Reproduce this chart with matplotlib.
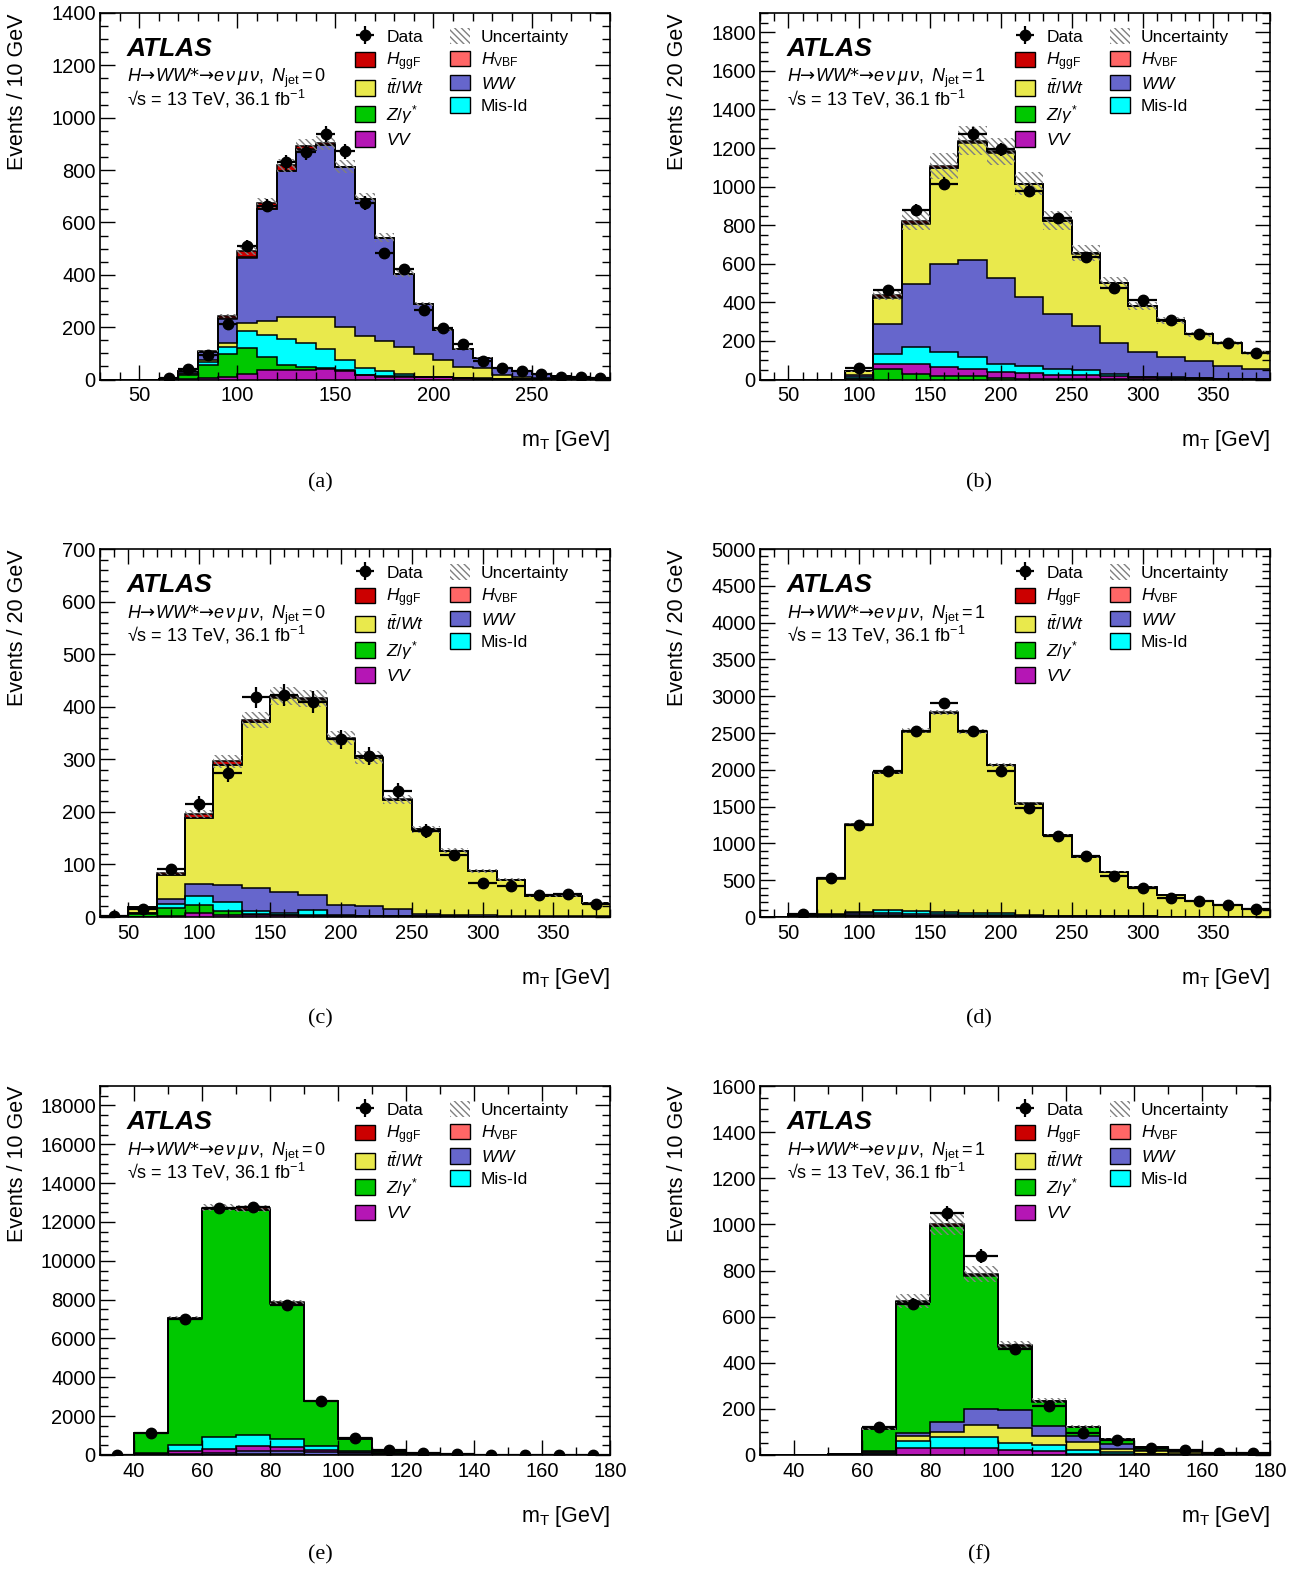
import numpy as np
import matplotlib
matplotlib.use("Agg")
import matplotlib.pyplot as plt
from matplotlib.patches import Patch
from matplotlib.ticker import MultipleLocator

nan = np.nan

# ---------------- panel (a): N_jet = 0, 10 GeV bins ----------------
a_bins = np.arange(30, 291, 10)
a_vv = [0, 0, 0, 0.5, 1, 4, 11, 22, 37, 37, 35, 40, 32, 17, 11, 11, 8, 8, 4, 3, 2, 2, 1, 1, 0.5, 0.5]
a_z = [0, 0, 0, 1.5, 18, 52, 85, 99, 49, 19, 12, 5, 5, 2, 2, 1, 1, 1, 1, 0.5, 0.5, 0.3, 0.3, 0.2, 0.2, 0.1]
a_misid = [0, 0, 0, 0, 2, 10, 28, 64, 85, 99, 92, 73, 39, 26, 18, 10, 2, 1, 1, 0.5, 0.5, 0.3, 0.3, 0.2, 0.2, 0.1]
a_top = [0, 0, 0, 0, 2, 7, 15, 31, 51, 84, 100, 121, 125, 121, 116, 102, 87, 63, 41, 40, 16, 8, 6, 3, 2, 1]
a_ww = [0, 0, 0, 1, 10, 33, 94, 249, 428, 557, 639, 657, 609, 522, 394, 280, 189, 116, 68, 39, 25, 20, 14, 8, 5, 3]
a_hvbf = [0, 0, 0, 0, 0.2, 0.3, 1, 2, 2, 1.5, 1, 1, 0.5, 0.3, 0.3, 0.3, 0.2, 0.2, 0.1, 0.1, 0.1, 0, 0, 0, 0, 0]
a_hggf = [0, 0, 0, 0, 1, 3, 8, 24, 22, 20, 12, 7, 3, 2, 1, 0.5, 0.5, 0.3, 0.2, 0.2, 0.1, 0.1, 0, 0, 0, 0]
a_data = [nan, nan, nan, 5, 40, 92, 211, 511, 664, 830, 868, 936, 871, 674, 482, 422, 267, 198, 135, 69, 44, 31, 20, 8, 10, 5]

# ---------------- panel (b): N_jet = 1, 20 GeV bins ----------------
b_bins = np.arange(30, 391, 20)
b_z = [0, 0, 0, 3, 52, 29, 19, 16, 7, 4, 3, 2, 1, 1, 0.5, 0.5, 0.3, 0.2]
b_vv = [0, 0, 0, 2, 29, 52, 45, 38, 31, 29, 21, 22, 15, 11, 7, 5, 3, 2]
b_misid = [0, 0, 0, 7, 52, 87, 78, 64, 43, 36, 28, 27, 13, 2, 3, 4, 1, 1]
b_ww = [0, 0, 0, 9, 156, 329, 459, 502, 445, 359, 289, 226, 161, 128, 105, 84, 64, 50]
b_top = [0, 0, 0, 20.5, 136, 309, 493, 608, 650, 583, 481, 376, 308, 238, 189, 140, 120, 84]
b_hvbf = [0, 0, 0, 0.5, 3, 4, 4, 3, 2.5, 2, 1.5, 1, 0.8, 0.6, 0.5, 0.4, 0.3, 0.2]
b_hggf = [0, 0, 0, 1, 8, 12, 10, 7, 5, 3, 2, 1.5, 1, 0.7, 0.5, 0.4, 0.3, 0.2]
b_data = [nan, nan, nan, 59, 462, 881, 1016, 1271, 1193, 978, 835, 635, 474, 414, 306, 236, 191, 138]

# ---------------- panel (c): N_jet = 0, 20 GeV bins ----------------
c_bins = np.arange(30, 391, 20)
c_vv = [0, 0.5, 1, 7, 4, 3, 3, 2, 1.5, 1.2, 1, 0.8, 0.6, 0.5, 0.4, 0.3, 0.2, 0.2]
c_z = [0, 5.5, 17, 16, 7, 2, 1, 1, 0.8, 0.5, 0.3, 0.3, 0.2, 0.2, 0.2, 0.1, 0.1, 0.1]
c_misid = [0, 1, 6, 16, 17, 7, 4, 10, 0.7, 0.3, 0.5, 0.2, 0.2, 0.2, 0.1, 0.1, 0.1, 0.1]
c_ww = [0, 1, 10, 24, 33, 43, 39, 28, 19, 18, 13, 3.5, 2.5, 2.5, 2, 1.5, 1.2, 1]
c_top = [0, 10.6, 45.5, 124.8, 227.8, 315, 370.2, 372.4, 317.1, 282.7, 208.1, 161.5, 121.9, 84.2, 68, 37.7, 38.2, 25.4]
c_hvbf = [0, 0.1, 0.5, 1.2, 1.2, 1, 0.8, 0.6, 0.4, 0.3, 0.3, 0.2, 0.2, 0.1, 0.1, 0.1, 0.1, 0.1]
c_hggf = [0, 0.3, 3, 7, 6, 4, 3, 2, 1.5, 1, 0.8, 0.5, 0.4, 0.3, 0.2, 0.2, 0.1, 0.1]
c_data = [1, 16, 91, 215, 273, 418, 422, 409, 338, 306, 240, 164, 117, 64, 59, 42, 43, 24]

# ---------------- panel (d): N_jet = 1, 20 GeV bins ----------------
d_bins = np.arange(30, 391, 20)
d_vv = [0, 2, 6, 10, 12, 12, 11, 10, 8, 6, 4, 3, 2, 2, 1, 1, 1, 1]
d_z = [0, 5, 15, 18, 12, 8, 5, 4, 3, 2, 2, 1, 1, 1, 0.5, 0.5, 0.5, 0.5]
d_ww = [0, 2, 10, 20, 25, 25, 22, 18, 15, 12, 9, 7, 5, 4, 3, 2, 2, 1]
d_misid = [0, 3, 10, 25, 40, 30, 35, 20, 25, 8, 4, 3, 2, 2, 1, 1, 1, 1]
d_top = [0, 28.4, 482, 1174, 1868, 2444, 2700.5, 2464, 2011.5, 1513, 1098.7, 799.4, 603.9, 400.2, 294.9, 209, 159.2, 105.2]
d_hvbf = [0, 0.1, 1, 2, 3, 3, 2.5, 2, 1.5, 1, 0.8, 0.6, 0.4, 0.3, 0.2, 0.2, 0.1, 0.1]
d_hggf = [0, 0.5, 4, 8, 12, 10, 7, 5, 3, 2, 1.5, 1, 0.7, 0.5, 0.4, 0.3, 0.2, 0.2]
d_data = [nan, 46, 528, 1252, 1986, 2532, 2905, 2527, 1981, 1475, 1097, 833, 560, 396, 260, 214, 168, 109]

# ---------------- panel (e): N_jet = 0, 10 GeV bins ----------------
e_bins = np.arange(30, 181, 10)
e_top = [0, 5, 15, 25, 30, 30, 25, 20, 12, 8, 5, 3, 2, 1, 1]
e_ww = [0, 30, 60, 100, 200, 200, 140, 100, 50, 25, 12, 6, 3, 2, 1]
e_vv = [0, 30, 130, 200, 220, 180, 80, 50, 25, 12, 6, 3, 2, 1, 0.5]
e_misid = [0, 20, 300, 590, 570, 420, 200, 40, 20, 10, 5, 2, 1, 0.5, 0.3]
e_z = [0, 1050.5, 6523, 11757, 11584, 6969, 2313, 628, 118, 32.5, 10.7, 5.3, 1.6, 0.2, 0.2]
e_hvbf = [0, 0.5, 3, 8, 12, 10, 5, 2, 1, 0.5, 0.3, 0.2, 0.1, 0.1, 0.1]
e_hggf = [0, 2, 20, 60, 90, 70, 30, 10, 4, 2, 1, 0.5, 0.3, 0.2, 0.1]
e_data = [2, 1138, 7017, 12706, 12758, 7741, 2793, 860, 260, 100, 40, 20, 10, 5, 3]

# ---------------- panel (f): N_jet = 1, 10 GeV bins ----------------
f_bins = np.arange(30, 181, 10)
f_vv = [0, 0, 0.5, 5, 32, 32, 32, 22, 18, 3, 3, 3, 2, 1, 0.5]
f_misid = [0, 0, 0.5, 3, 29, 44, 48, 32, 24, 19, 10, 3, 2, 1, 0.5]
f_top = [0, 0, 0.5, 5, 22, 25, 52, 64, 41, 36, 15, 12, 8, 4, 2]
f_ww = [0, 0, 0.5, 4, 11, 41, 68, 75, 44, 25, 19, 4, 6, 3, 2]
f_z = [0, 0, 0.7, 96.7, 567.5, 849, 577, 276.5, 104, 37.4, 20.6, 12.3, 1.6, 0.7, 0.8]
f_hvbf = [0, 0, 0.1, 0.3, 1.5, 2, 2, 1.5, 1, 0.6, 0.4, 0.2, 0.1, 0.1, 0.1]
f_hggf = [0, 0, 0.2, 1, 5, 7, 6, 4, 3, 2, 1, 0.5, 0.3, 0.2, 0.1]
f_data = [nan, nan, nan, 121, 654, 1048, 863, 459, 213, 95, 66, 29, 23, 10, 8]

# relative size of the hatched systematic band
unc_frac = [0.03, 0.06, 0.04, 0.012, 0.015, 0.045]

colors = {
    "hggf": "#cc0000",
    "hvbf": "#ff6666",
    "top": "#e9e94c",
    "ww": "#6666cc",
    "z": "#00c800",
    "misid": "#00ffff",
    "vv": "#b516b5",
}
labels = {
    "hggf": r"$H_{\rm ggF}$",
    "hvbf": r"$H_{\rm VBF}$",
    "top": r"$t\bar{t}/Wt$",
    "ww": r"$WW$",
    "z": r"$Z/\gamma^{*}$",
    "misid": "Mis-Id",
    "vv": r"$VV$",
}

plt.rcParams["font.family"] = ["Liberation Sans", "DejaVu Sans"]
plt.rcParams["mathtext.fontset"] = "custom"
plt.rcParams["mathtext.rm"] = "Liberation Sans"
plt.rcParams["mathtext.it"] = "Liberation Sans:italic"
plt.rcParams["mathtext.bf"] = "Liberation Sans:bold"
plt.rcParams["mathtext.sf"] = "Liberation Sans"
plt.rcParams["hatch.linewidth"] = 1.0
plt.rcParams["axes.linewidth"] = 1.2

HATCH = "\\\\\\\\\\"

panels = [
    dict(bins=a_bins, comps=dict(vv=a_vv, z=a_z, misid=a_misid, top=a_top, ww=a_ww, hvbf=a_hvbf, hggf=a_hggf),
         order=["vv", "z", "misid", "top", "ww", "hvbf", "hggf"], data=a_data,
         ymax=1400, ymaj=200, ysub=4, xmaj=50, width=10, njet=0, tag="(a)"),
    dict(bins=b_bins, comps=dict(vv=b_vv, z=b_z, misid=b_misid, top=b_top, ww=b_ww, hvbf=b_hvbf, hggf=b_hggf),
         order=["z", "vv", "misid", "ww", "top", "hvbf", "hggf"], data=b_data,
         ymax=1900, ymaj=200, ysub=4, xmaj=50, width=20, njet=1, tag="(b)"),
    dict(bins=c_bins, comps=dict(vv=c_vv, z=c_z, misid=c_misid, top=c_top, ww=c_ww, hvbf=c_hvbf, hggf=c_hggf),
         order=["vv", "z", "misid", "ww", "top", "hvbf", "hggf"], data=c_data,
         ymax=700, ymaj=100, ysub=5, xmaj=50, width=20, njet=0, tag="(c)"),
    dict(bins=d_bins, comps=dict(vv=d_vv, z=d_z, misid=d_misid, top=d_top, ww=d_ww, hvbf=d_hvbf, hggf=d_hggf),
         order=["vv", "z", "ww", "misid", "top", "hvbf", "hggf"], data=d_data,
         ymax=5000, ymaj=500, ysub=5, xmaj=50, width=20, njet=1, tag="(d)"),
    dict(bins=e_bins, comps=dict(vv=e_vv, z=e_z, misid=e_misid, top=e_top, ww=e_ww, hvbf=e_hvbf, hggf=e_hggf),
         order=["top", "ww", "vv", "misid", "z", "hvbf", "hggf"], data=e_data,
         ymax=19000, ymaj=2000, ysub=4, xmaj=20, width=10, njet=0, tag="(e)"),
    dict(bins=f_bins, comps=dict(vv=f_vv, z=f_z, misid=f_misid, top=f_top, ww=f_ww, hvbf=f_hvbf, hggf=f_hggf),
         order=["vv", "misid", "top", "ww", "z", "hvbf", "hggf"], data=f_data,
         ymax=1600, ymaj=200, ysub=4, xmaj=20, width=10, njet=1, tag="(f)"),
]

W, H = 1313, 1572
fig = plt.figure(figsize=(W / 100, H / 100), dpi=100)

col_left = [100, 760]
row_top = [13, 549, 1086]
row_bot = [379.5, 917, 1455]
tag_y = [483, 1019, 1555]
tag_x = [320, 979]

for i, p in enumerate(panels):
    r, c = divmod(i, 2)
    hpx = row_bot[r] - row_top[r]
    ax = fig.add_axes([col_left[c] / W, 1 - row_bot[r] / H, 510 / W, hpx / H])
    edges = np.asarray(p["bins"], float)
    base = np.zeros(len(edges) - 1)
    for key in p["order"]:
        top = base + np.asarray(p["comps"][key], float)
        ax.stairs(top, edges, baseline=base, fill=True, facecolor=colors[key], edgecolor="none", lw=0, zorder=1)
        ax.stairs(top, edges, baseline=None, color="k", lw=1.1, zorder=2)
        base = top
    total = base
    u = unc_frac[i]
    ax.stairs(total * (1 + u), edges, baseline=total * (1 - u), fill=True, facecolor="none",
              edgecolor="#808080", hatch=HATCH, lw=0, zorder=3)

    data = np.asarray(p["data"], float)
    centers = 0.5 * (edges[1:] + edges[:-1])
    half = 0.5 * np.diff(edges)
    m = ~np.isnan(data)
    eb = ax.errorbar(centers[m], data[m], xerr=half[m], yerr=np.sqrt(data[m]), fmt="o", ms=7.5,
                     color="k", elinewidth=1.6, capsize=0, zorder=5)

    ax.set_xlim(edges[0], edges[-1])
    ax.set_ylim(0, p["ymax"])
    ax.xaxis.set_major_locator(MultipleLocator(p["xmaj"]))
    ax.xaxis.set_minor_locator(MultipleLocator(10))
    ax.yaxis.set_major_locator(MultipleLocator(p["ymaj"]))
    ax.yaxis.set_minor_locator(MultipleLocator(p["ymaj"] / p["ysub"]))
    ax.tick_params(which="both", direction="in", top=True, right=True, labelsize=14.5, width=1)
    ax.tick_params(which="major", length=11)
    ax.tick_params(which="minor", length=5.5)
    ax.tick_params(axis="x", pad=5)
    ax.tick_params(axis="y", pad=3)

    ax.set_ylabel("Events / %d GeV" % p["width"], fontsize=15.5, loc="top")
    ax.yaxis.set_label_coords(-0.141, 1.0)
    ax.set_xlabel(r"m$_{\rm T}$ [GeV]", fontsize=15.5, loc="right")
    ax.xaxis.set_label_coords(1.0, -0.133)

    def yfrac(ypix):
        return 1 - (ypix - 13) / 366.5

    ax.text(0.053, yfrac(55.7), "ATLAS", transform=ax.transAxes, fontsize=19, fontweight="bold",
            fontstyle="italic", va="baseline")
    ax.text(0.053, yfrac(82.3),
            "$H$\u2192$WW$*\u2192$e\\,\\nu\\,\\mu\\,\\nu,\\ N_{\\rm jet} = %d$" % p["njet"],
            transform=ax.transAxes, fontsize=13, va="baseline", family=["DejaVu Sans"])
    ax.text(0.053, yfrac(105), "\u221as = 13 TeV, 36.1 fb$^{-1}$", transform=ax.transAxes,
            fontsize=13, va="baseline")

    boxes = {k: Patch(facecolor=colors[k], edgecolor="k", lw=1) for k in colors}
    unc_patch = Patch(facecolor="white", edgecolor="#808080", hatch=HATCH, lw=0)
    handles = [eb, boxes["hggf"], boxes["top"], boxes["z"], boxes["vv"],
               unc_patch, boxes["hvbf"], boxes["ww"], boxes["misid"]]
    names = ["Data", labels["hggf"], labels["top"], labels["z"], labels["vv"],
             "Uncertainty", labels["hvbf"], labels["ww"], labels["misid"]]
    ax.legend(handles, names, ncol=2, loc="upper left", bbox_to_anchor=(0.5, 0.959), frameon=False,
              fontsize=12.5, handlelength=1.15, handleheight=1.0, handletextpad=0.65, labelspacing=0.33,
              columnspacing=1.45, borderpad=0, borderaxespad=0)

    fig.text(tag_x[c] / W, 1 - tag_y[r] / H, p["tag"], ha="center", va="center", fontsize=16,
             family="Liberation Serif")

fig.savefig("out.png", dpi=100)
